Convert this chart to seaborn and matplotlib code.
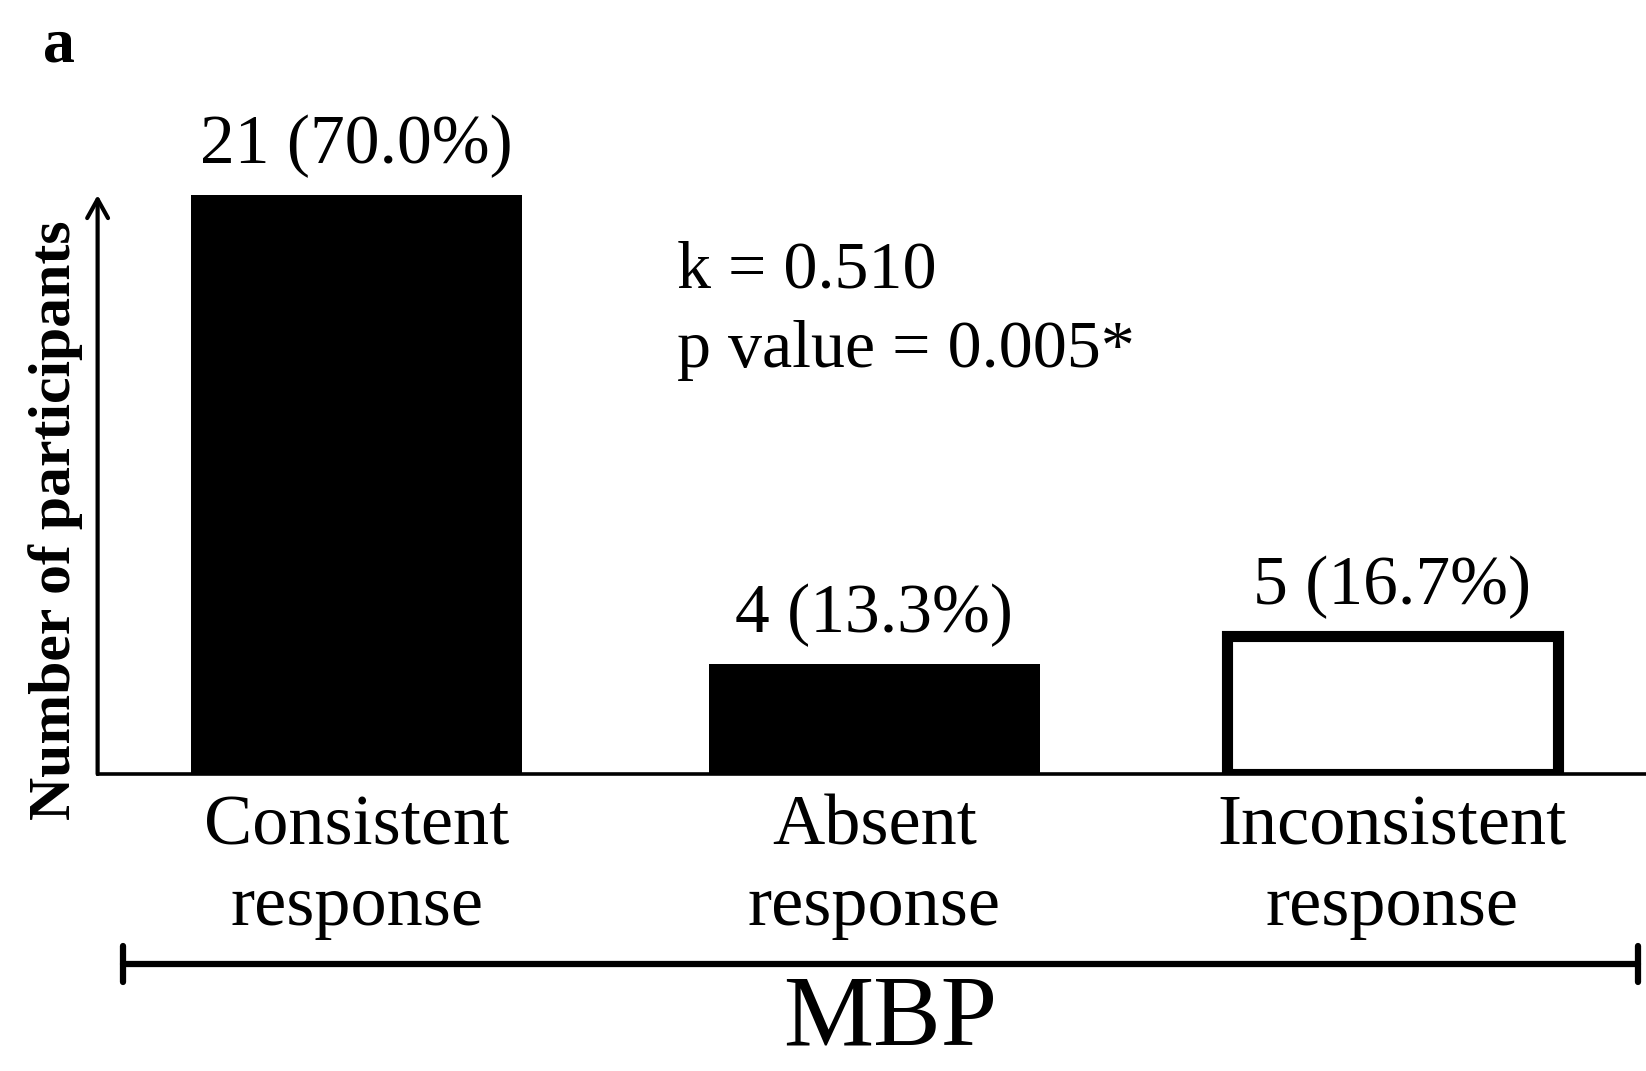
import pandas as pd
import seaborn as sns
import matplotlib.pyplot as plt
from matplotlib.lines import Line2D

# =============== DADOS ===============
categorias = ["Consistent\nresponse", "Absent\nresponse", "Inconsistent\nresponse"]
contagens = [21, 4, 5]
percentuais = [70.0, 13.3, 16.7]
cores = ["black", "black", "white"]
grupo = "MBP"
painel = "a"
kappa_txt = "k = 0.510"
p_txt = "p value = 0.005*"
ylabel = "Number of participants"

sns.set_style("white")
plt.rcParams["font.family"] = ["Liberation Serif", "DejaVu Serif"]
plt.rcParams["text.color"] = "black"
plt.rcParams["xtick.color"] = "black"

df = pd.DataFrame({"categoria": categorias, "n": contagens})

fig = plt.figure(figsize=(16.46, 10.71), dpi=100)
ax = fig.add_axes([0.0593, 0.2773, 0.9407, 0.5406])

sns.barplot(
    data=df, x="categoria", y="n", hue="categoria",
    palette=dict(zip(categorias, cores)), width=0.64,
    legend=False, ax=ax, linewidth=0, saturation=1,
)
# barra vazada (contorno grosso)
for patch, cor in zip(ax.patches, cores):
    if cor == "white":
        patch.set_edgecolor("black")
        patch.set_linewidth(8)

ax.set_xlim(-0.5, 2.49)
ax.set_ylim(0, 21)

# eixos
for lado in ["top", "right", "left"]:
    ax.spines[lado].set_visible(False)
ax.spines["bottom"].set_linewidth(2.6)
ax.spines["bottom"].set_color("black")
ax.annotate(
    "", xy=(0, 1.0), xytext=(0, 0),
    xycoords="axes fraction", textcoords="axes fraction",
    arrowprops=dict(arrowstyle="->,head_length=0.45,head_width=0.25",
                    lw=3, color="black", shrinkA=0, shrinkB=0,
                    mutation_scale=30),
    annotation_clip=False,
)
ax.set_yticks([])
ax.tick_params(axis="x", length=0, pad=15, labelsize=52, labelcolor="black")
for lbl in ax.get_xticklabels():
    lbl.set_linespacing(1.3)
ax.set_xlabel("")
ax.set_ylabel("")

# rótulos das barras
for i, (n, p) in enumerate(zip(contagens, percentuais)):
    ax.annotate(f"{n} ({p:.1f}%)", xy=(i, n), xytext=(0, 12),
                textcoords="offset points", ha="center", va="bottom",
                fontsize=50, annotation_clip=False)

# estatística
fig.text(0.411, 0.732, kappa_txt, fontsize=49, va="baseline", ha="left")
fig.text(0.411, 0.657, p_txt, fontsize=49, va="baseline", ha="left")

# título do eixo y e painel
fig.text(0.034, 0.514, ylabel, rotation=90, fontsize=43, fontweight="bold",
         ha="center", va="center")
fig.text(0.026, 0.943, painel, fontsize=46, fontweight="bold", va="baseline")

# colchete do grupo
y_br = 0.0999
fig.add_artist(Line2D([0.0747, 0.995], [y_br, y_br], transform=fig.transFigure,
                      color="black", lw=4.5))
for xb in [0.0747, 0.995]:
    fig.add_artist(Line2D([xb, xb], [y_br - 0.017, y_br + 0.017],
                          transform=fig.transFigure, color="black", lw=4.5))
fig.text(0.541, 0.003, grupo, fontsize=73, ha="center", va="bottom")

fig.savefig("out.png", dpi=100)
